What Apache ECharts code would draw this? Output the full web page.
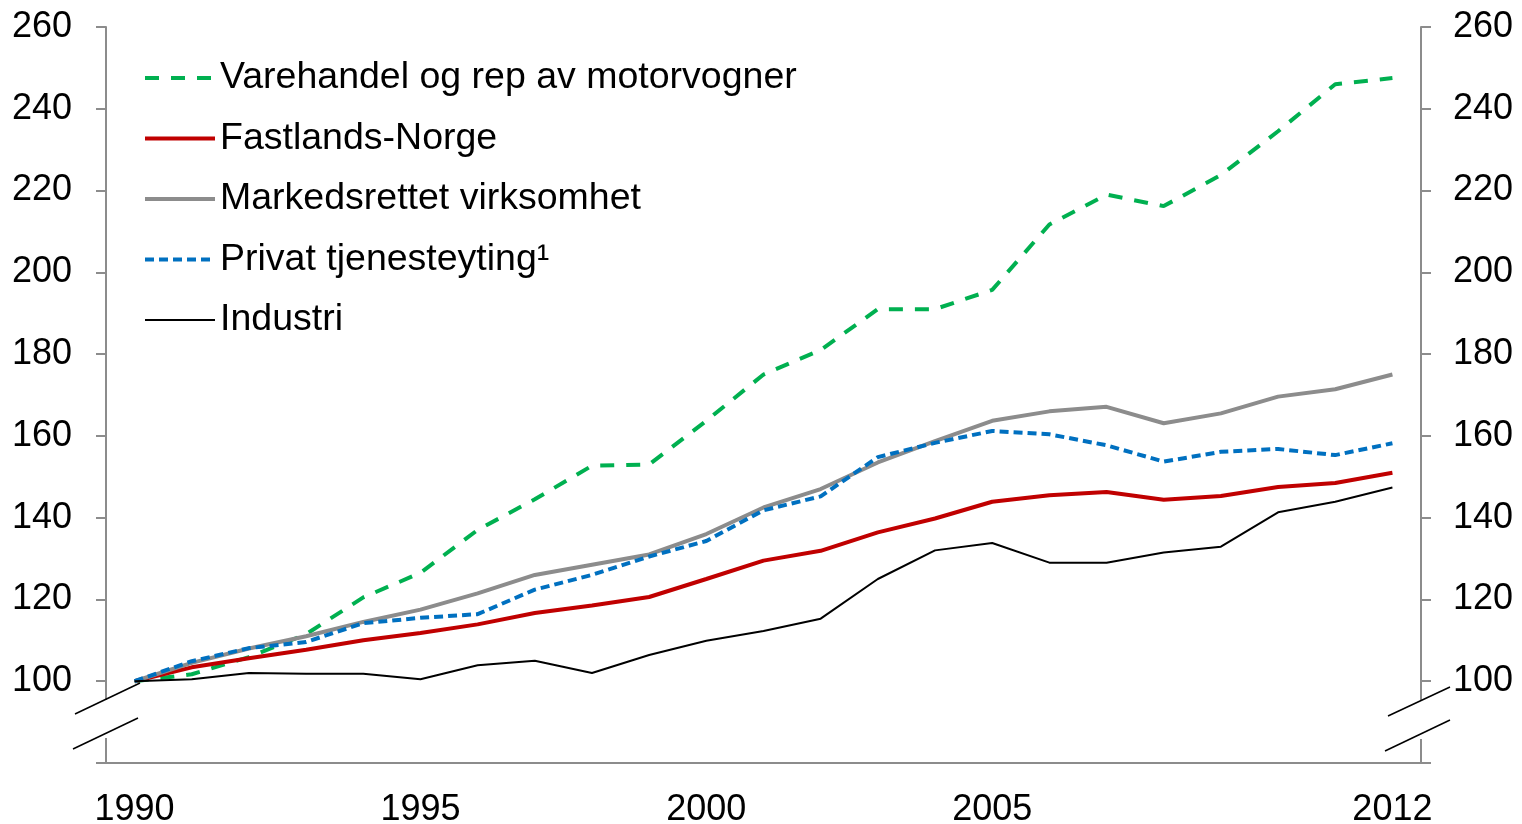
<!DOCTYPE html>
<html>
<head>
<meta charset="utf-8">
<script src="https://cdn.jsdelivr.net/npm/echarts@6/dist/echarts.min.js"></script>
<style>
  html, body { margin: 0; padding: 0; background: #fff; }
  #main { width: 1522px; height: 824px; }
</style>
</head>
<body>
<div id="main"></div>
<script>
// årstall
let years = ["1990", "1991", "1992", "1993", "1994", "1995", "1996", "1997", "1998", "1999", "2000",
  "2001", "2002", "2003", "2004", "2005", "2006", "2007", "2008", "2009", "2010", "2011", "2012"];
let shownYears = ["1990", "1995", "2000", "2005", "2012"];

// indeks 1990 = 100
let varehandel = [100, 101.7, 105.9, 111.5, 120.5, 126.5, 137, 144.5, 152.7, 153, 163.7,
  175, 181, 191, 191, 195.7, 211.7, 219, 216.2, 223.8, 234.5, 246, 247.5];
let fastland = [100, 103.4, 105.6, 107.7, 110, 111.8, 113.9, 116.7, 118.5, 120.6, 125,
  129.5, 131.9, 136.4, 139.8, 143.9, 145.5, 146.3, 144.4, 145.3, 147.5, 148.5, 151];
let markedsrettet = [100, 104.5, 108, 111, 114.5, 117.5, 121.5, 126, 128.5, 131, 136,
  142.5, 147, 153.5, 158.7, 163.7, 166, 167.1, 163.1, 165.5, 169.6, 171.4, 175];
let privat = [100, 104.9, 108.1, 109.6, 114.2, 115.5, 116.4, 122.4, 126, 130.5, 134.3,
  141.8, 145.2, 154.8, 158.3, 161.2, 160.4, 157.7, 153.7, 156.1, 156.8, 155.3, 158.2];
let industri = [100, 100.5, 102, 101.8, 101.8, 100.5, 103.9, 105, 102, 106.4, 109.9,
  112.3, 115.3, 125, 132, 133.8, 129, 129, 131.5, 132.9, 141.3, 143.9, 147.4];

let font = "Liberation Sans, Arial, sans-serif";
let axisColor = "#8c8c8c";

let myChart = echarts.init(document.getElementById("main"), null, { renderer: "canvas" });

let yAxisBase = {
  type: "value",
  min: 80,
  max: 260,
  interval: 20,
  splitLine: { show: false },
  axisLine: { show: true, lineStyle: { color: axisColor, width: 2 } },
  axisTick: { show: true, length: 10, lineStyle: { color: axisColor, width: 2 } },
  axisLabel: {
    fontSize: 36,
    fontFamily: font,
    color: "#000",
    formatter: (v) => (v === 80 ? "" : v),
  },
};

let option = {
  animation: false,
  backgroundColor: "#fff",
  grid: { left: 106, right: 101, top: 27, bottom: 61, outerBoundsMode: "none" },

  legend: {
    orient: "vertical",
    left: 138,
    top: 54,
    itemWidth: 70,
    itemHeight: 14,
    itemGap: 22.5,
    itemStyle: { opacity: 0 },
    lineStyle: { width: 4 },
    data: [
      "Varehandel og rep av motorvogner",
      "Fastlands-Norge",
      "Markedsrettet virksomhet",
      "Privat tjenesteyting¹",
      { name: "Industri", lineStyle: { width: 2 } },
    ],
    textStyle: { fontSize: 37.5, fontFamily: font, color: "#000", lineHeight: 36 },
  },

  xAxis: {
    type: "category",
    data: years,
    boundaryGap: true,
    axisLine: { lineStyle: { color: axisColor, width: 2 } },
    axisTick: { interval: 0, length: 12, lineStyle: { color: axisColor, width: 2 } },
    axisLabel: {
      interval: (i, v) => shownYears.includes(v),
      fontSize: 36,
      fontFamily: font,
      color: "#000",
      margin: 29,
    },
  },

  yAxis: [
    Object.assign({}, yAxisBase, { position: "left", axisLabel: Object.assign({}, yAxisBase.axisLabel, { margin: 34 }) }),
    Object.assign({}, yAxisBase, { position: "right", axisLabel: Object.assign({}, yAxisBase.axisLabel, { margin: 32 }) }),
  ],

  series: [
    {
      name: "Varehandel og rep av motorvogner",
      type: "line",
      data: varehandel,
      symbol: "none",
      lineStyle: { color: "#00b050", width: 4, type: [14, 12] },
      itemStyle: { color: "#00b050" },
    },
    {
      name: "Fastlands-Norge",
      type: "line",
      data: fastland,
      symbol: "none",
      lineStyle: { color: "#c00000", width: 4 },
      itemStyle: { color: "#c00000" },
    },
    {
      name: "Markedsrettet virksomhet",
      type: "line",
      data: markedsrettet,
      symbol: "none",
      lineStyle: { color: "#8c8c8c", width: 4 },
      itemStyle: { color: "#8c8c8c" },
    },
    {
      name: "Privat tjenesteyting¹",
      type: "line",
      data: privat,
      symbol: "none",
      lineStyle: { color: "#0070c0", width: 4, type: [9, 5] },
      itemStyle: { color: "#0070c0" },
    },
    {
      name: "Industri",
      type: "line",
      data: industri,
      symbol: "none",
      lineStyle: { color: "#000", width: 2 },
      itemStyle: { color: "#000" },
    },
  ],

  // aksebrudd
  graphic: [
    { type: "rect", z: 100, shape: { x: 100, y: 700, width: 12, height: 38 }, style: { fill: "#fff" } },
    { type: "rect", z: 100, shape: { x: 1415, y: 701, width: 12, height: 38 }, style: { fill: "#fff" } },
    { type: "line", z: 101, shape: { x1: 75, y1: 714, x2: 140, y2: 683 }, style: { stroke: "#000", lineWidth: 1.5 } },
    { type: "line", z: 101, shape: { x1: 73, y1: 749, x2: 138, y2: 718 }, style: { stroke: "#000", lineWidth: 1.5 } },
    { type: "line", z: 101, shape: { x1: 1388, y1: 716, x2: 1450, y2: 687 }, style: { stroke: "#000", lineWidth: 1.5 } },
    { type: "line", z: 101, shape: { x1: 1385, y1: 751, x2: 1450, y2: 720 }, style: { stroke: "#000", lineWidth: 1.5 } },
  ],
};

myChart.setOption(option);
</script>
</body>
</html>
